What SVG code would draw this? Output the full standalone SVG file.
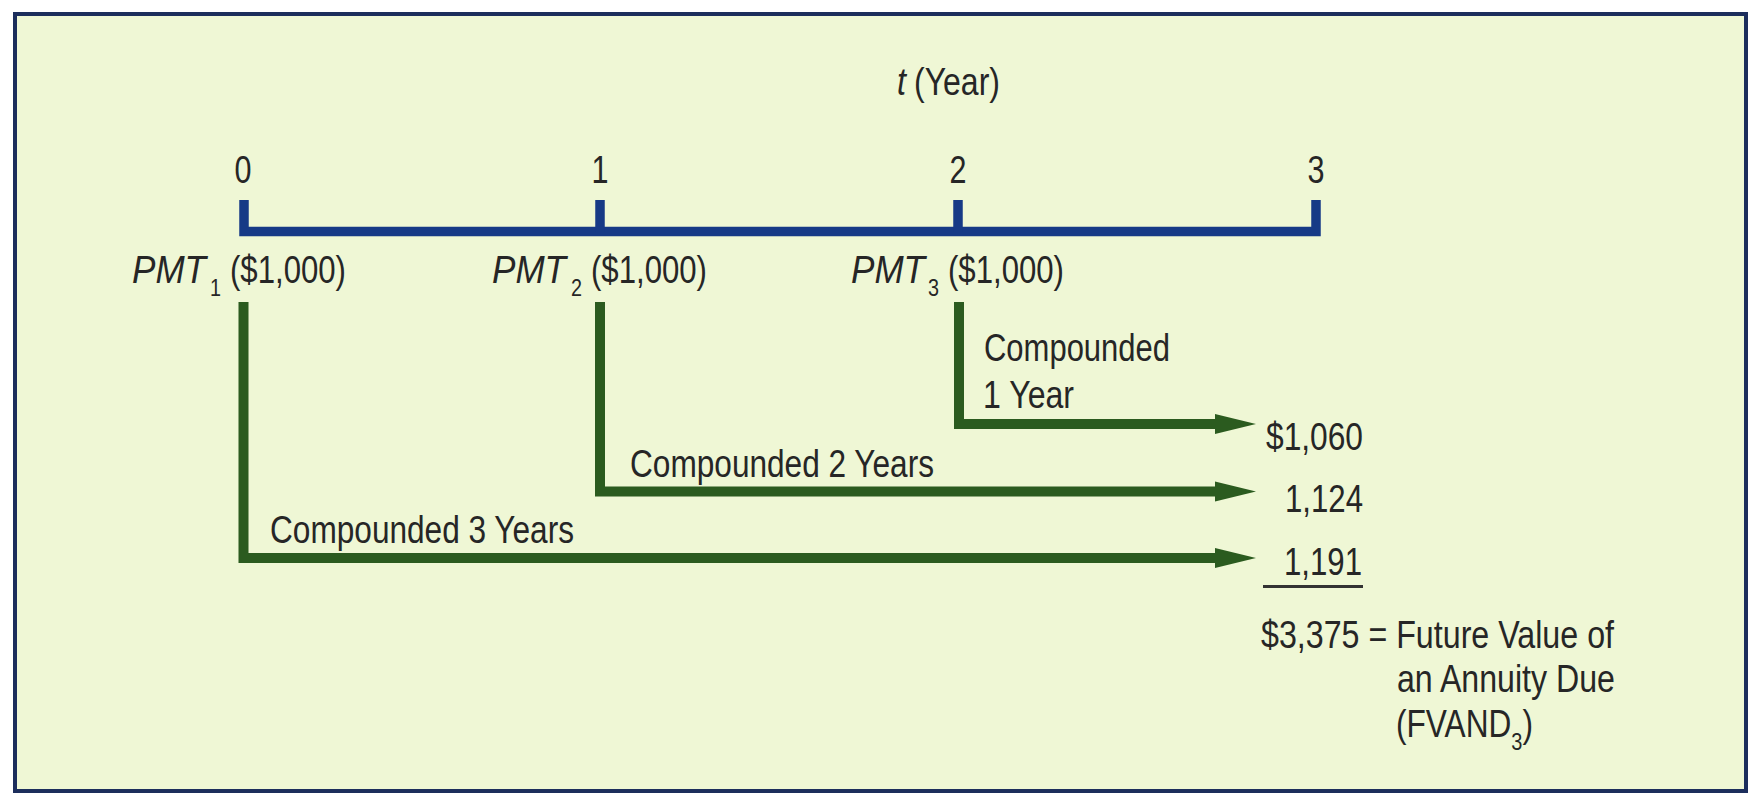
<svg xmlns="http://www.w3.org/2000/svg" width="1753" height="796" viewBox="0 0 1753 796">
<style>
text{font-family:"Liberation Sans",Arial,sans-serif;font-size:38px;fill:#262626}
.it{font-style:italic}
.sub{font-size:24px}
.axis{fill:none;stroke:#163a86;stroke-width:9.5;stroke-linejoin:miter}
.flow{fill:none;stroke:#2b5b1f;stroke-width:10;stroke-linejoin:miter}
.head{fill:#2b5b1f}
</style>
<rect x="15" y="14" width="1731" height="777" fill="#eff7d5" stroke="#1c2e5c" stroke-width="4"/>
<g id="axis">
<path class="axis" d="M244,200 V231.5 H1316 V200"/>
<path class="axis" d="M600,200 V231.5 M958,200 V231.5"/>
<text x="897" y="95" class="it" textLength="9" lengthAdjust="spacingAndGlyphs">t</text>
<text x="914" y="95" textLength="86" lengthAdjust="spacingAndGlyphs">(Year)</text>
<text x="243" y="183" text-anchor="middle" textLength="17" lengthAdjust="spacingAndGlyphs">0</text>
<text x="600" y="183" text-anchor="middle" textLength="17" lengthAdjust="spacingAndGlyphs">1</text>
<text x="958" y="183" text-anchor="middle" textLength="17" lengthAdjust="spacingAndGlyphs">2</text>
<text x="1316" y="183" text-anchor="middle" textLength="17" lengthAdjust="spacingAndGlyphs">3</text>
</g>
<g id="pmt1">
<text x="132" y="283" class="it" textLength="74" lengthAdjust="spacingAndGlyphs">PMT</text>
<text x="210" y="296" class="sub" textLength="11" lengthAdjust="spacingAndGlyphs">1</text>
<text x="230" y="283" textLength="116" lengthAdjust="spacingAndGlyphs">($1,000)</text>
</g>
<g id="pmt2">
<text x="492" y="283" class="it" textLength="74" lengthAdjust="spacingAndGlyphs">PMT</text>
<text x="571" y="296" class="sub" textLength="11" lengthAdjust="spacingAndGlyphs">2</text>
<text x="591" y="283" textLength="116" lengthAdjust="spacingAndGlyphs">($1,000)</text>
</g>
<g id="pmt3">
<text x="851" y="283" class="it" textLength="74" lengthAdjust="spacingAndGlyphs">PMT</text>
<text x="928" y="296" class="sub" textLength="11" lengthAdjust="spacingAndGlyphs">3</text>
<text x="948" y="283" textLength="116" lengthAdjust="spacingAndGlyphs">($1,000)</text>
</g>
<g id="connectors">
<path class="flow" d="M243.5,302 V558 H1220"/>
<polygon class="head" points="1215,548 1256,558 1215,568"/>
<path class="flow" d="M600,302 V491.5 H1220"/>
<polygon class="head" points="1215,481.5 1256,491.5 1215,501.5"/>
<path class="flow" d="M959,302 V424 H1220"/>
<polygon class="head" points="1215,414 1256,424 1215,434"/>
<text x="270" y="543" textLength="304" lengthAdjust="spacingAndGlyphs">Compounded 3 Years</text>
<text x="630" y="477" textLength="304" lengthAdjust="spacingAndGlyphs">Compounded 2 Years</text>
<text x="984" y="361" textLength="186" lengthAdjust="spacingAndGlyphs">Compounded</text>
<text x="983" y="408" textLength="91" lengthAdjust="spacingAndGlyphs">1 Year</text>
</g>
<g id="results">
<text x="1266" y="450" textLength="97" lengthAdjust="spacingAndGlyphs">$1,060</text>
<text x="1285" y="512" textLength="78" lengthAdjust="spacingAndGlyphs">1,124</text>
<text x="1284" y="575" textLength="78" lengthAdjust="spacingAndGlyphs">1,191</text>
<line x1="1263" y1="586.5" x2="1363" y2="586.5" stroke="#333" stroke-width="3"/>
<text x="1261" y="648" textLength="353" lengthAdjust="spacingAndGlyphs">$3,375 = Future Value of</text>
<text x="1397" y="692" textLength="218" lengthAdjust="spacingAndGlyphs">an Annuity Due</text>
<text x="1396" y="737" textLength="137" lengthAdjust="spacingAndGlyphs">(FVAND<tspan class="sub" dy="13">3</tspan><tspan dy="-13">)</tspan></text>
</g>
</svg>
